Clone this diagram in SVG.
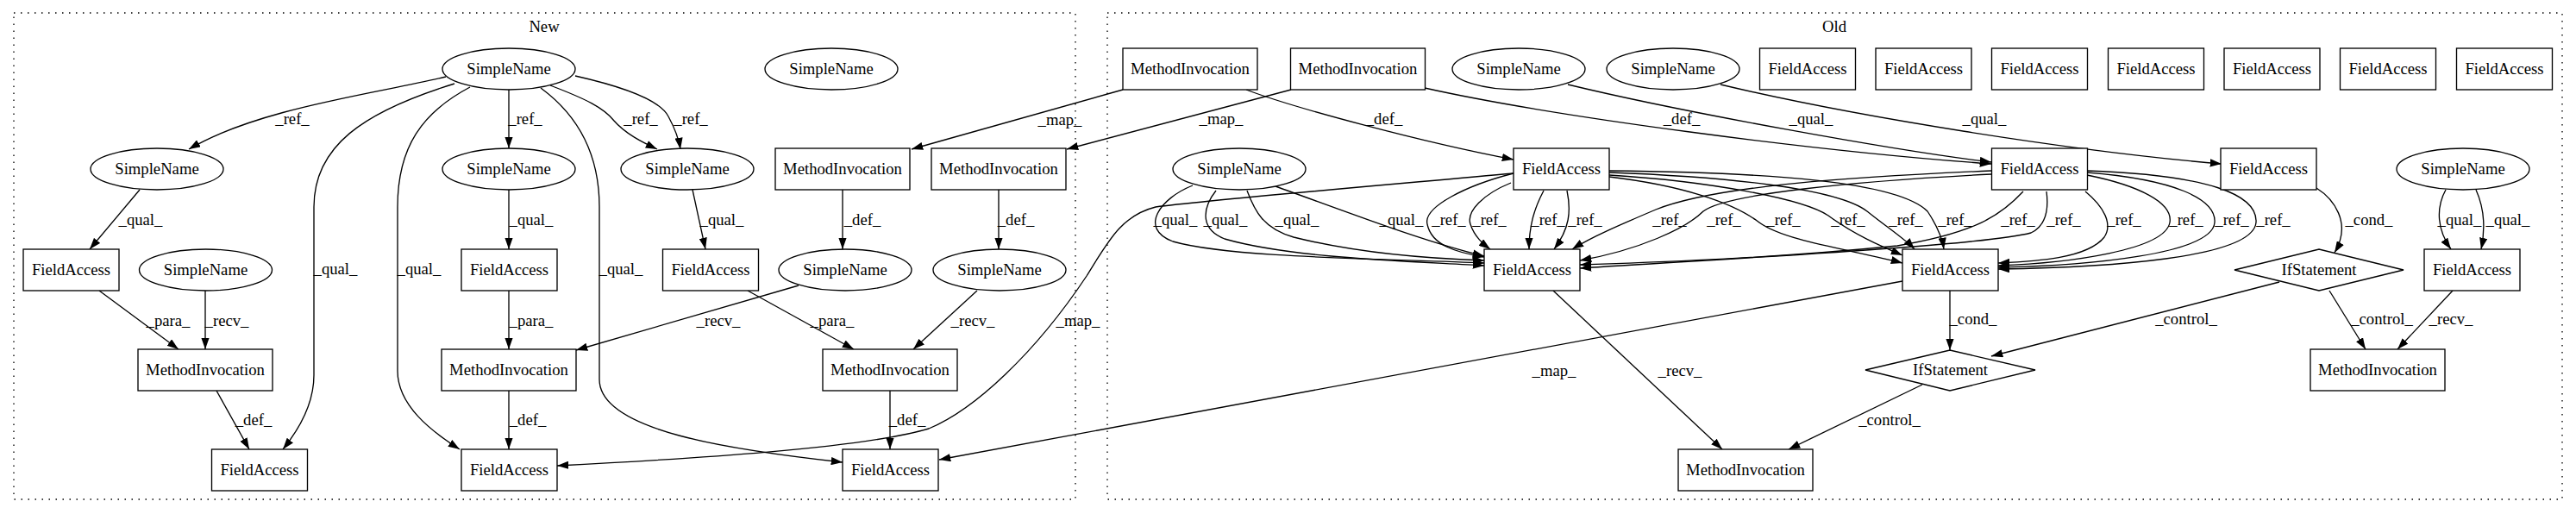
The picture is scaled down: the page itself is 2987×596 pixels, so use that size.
<svg xmlns="http://www.w3.org/2000/svg" width="2987" height="596" viewBox="0 0 2987 596">
<defs>
<marker id="ah" viewBox="0 0 10 7" refX="10" refY="3.5" markerWidth="13.3" markerHeight="9.3" markerUnits="userSpaceOnUse" orient="auto"><path d="M0,0 L10,3.5 L0,7 z" fill="#000"/></marker>
<style>
text{font-family:"Liberation Serif","Times New Roman",serif;font-size:18.67px;fill:#000;text-anchor:middle}
.n rect,.n ellipse,.n polygon{fill:#fff;stroke:#000;stroke-width:1.33}
.cl{fill:none;stroke:#000;stroke-width:1.33;stroke-dasharray:1.5,6.5}
#edges path{fill:none;stroke:#000;stroke-width:1.33;marker-end:url(#ah)}
</style>
</defs>
<rect width="2987" height="596" fill="#fff"/>
<g id="cluster_new"><rect class="cl" x="16" y="15" width="1231" height="564"/><text x="631" y="37">New</text></g>
<g id="cluster_old"><rect class="cl" x="1284" y="15" width="1687" height="564"/><text x="2127" y="37">Old</text></g>

<g id="edges">
<path d="M517,89 C440,108 300,125 219,173"/><text x="339" y="144">_ref_</text>
<path d="M527,97 C420,130 364,170 364,240 L364,435 C364,470 345,500 328,521"/><text x="389" y="318">_qual_</text>
<path d="M545,101 C490,130 461,170 461,240 L461,430 C461,470 500,500 533,521"/><text x="486" y="318">_qual_</text>
<path d="M590,104 L590,172"/><text x="609" y="144">_ref_</text>
<path d="M627,102 C672,135 695,180 695,240 L695,440 C695,500 850,522 977,536"/><text x="720" y="318">_qual_</text>
<path d="M638,99 C680,115 700,125 712,140 C725,155 745,165 762,173"/><text x="743" y="144">_ref_</text>
<path d="M667,88 C720,100 765,115 775,135 C782,148 787,160 789,173"/><text x="801" y="144">_ref_</text>
<path d="M162,220 L104,289"/><text x="163" y="261">_qual_</text>
<path d="M590,220 L590,289"/><text x="616" y="261">_qual_</text>
<path d="M803,220 L818,289"/><text x="837" y="261">_qual_</text>
<path d="M977,220 L977,289"/><text x="1000" y="261">_def_</text>
<path d="M1158,220 L1158,289"/><text x="1178" y="261">_def_</text>
<path d="M115,337 L207,405"/><text x="195" y="378">_para_</text>
<path d="M238,337 L238,405"/><text x="263" y="378">_recv_</text>
<path d="M590,337 L590,405"/><text x="616" y="378">_para_</text>
<path d="M926,331 L668,406"/><text x="833" y="378">_recv_</text>
<path d="M867,337 L990,405"/><text x="965" y="378">_para_</text>
<path d="M1133,337 L1059,405"/><text x="1128" y="378">_recv_</text>
<path d="M251,453 L289,521"/><text x="294" y="493">_def_</text>
<path d="M590,453 L590,521"/><text x="612" y="493">_def_</text>
<path d="M1032,453 L1032,521"/><text x="1052" y="493">_def_</text>

<path d="M1302,104 L1057,173"/><text x="1229" y="145">_map_</text>
<path d="M1497,104 L1237,173"/><text x="1416" y="144">_map_</text>
<path d="M1755,201 C1600,215 1400,232 1340,240 C1300,250 1285,280 1260,320 C1200,410 1130,475 1077,497 C1000,520 800,532 646,540"/><text x="1250" y="378">_map_</text>
<path d="M2206,326 L1089,533"/><text x="1802" y="436">_map_</text>

<path d="M1445,104 C1500,125 1650,165 1755,185"/><text x="1605" y="144">_def_</text>
<path d="M1652,102 C1800,135 2100,175 2309,190"/><text x="1950" y="144">_def_</text>
<path d="M1818,98 C1950,130 2200,175 2309,188"/><text x="2100" y="144">_qual_</text>
<path d="M1995,98 C2150,135 2400,175 2576,190"/><text x="2301" y="144">_qual_</text>
<path d="M2836,220 C2825,240 2825,265 2842,289"/><text x="2852" y="261">_qual_</text>
<path d="M2871,220 C2880,240 2882,265 2877,289"/><text x="2908" y="261">_qual_</text>
<path d="M2686,218 C2705,230 2728,258 2707,293"/><text x="2747" y="261">_cond_</text>
<path d="M2643,327 L2309,413"/><text x="2535" y="376">_control_</text>
<path d="M2701,337 L2743,405"/><text x="2762" y="376">_control_</text>
<path d="M2844,337 L2780,405"/><text x="2842" y="376">_recv_</text>
<path d="M2261,337 L2261,406"/><text x="2288" y="376">_cond_</text>
<path d="M2229,446 L2074,521"/><text x="2191" y="493">_control_</text>
<path d="M1801,337 L1997,521"/><text x="1948" y="436">_recv_</text>

<path d="M1383,215 C1345,230 1320,265 1360,280 C1430,300 1620,300 1721,305"/><text x="1363" y="261">_qual_</text>
<path d="M1410,221 C1395,240 1390,265 1420,277 C1500,300 1640,303 1721,308"/><text x="1421" y="261">_qual_</text>
<path d="M1446,221 C1455,245 1465,265 1500,275 C1580,295 1660,300 1721,302"/><text x="1504" y="261">_qual_</text>
<path d="M1479,216 C1560,245 1650,280 1721,297"/><text x="1625" y="261">_qual_</text>

<path d="M1755,201 C1700,215 1650,240 1655,260 C1660,285 1690,293 1721,298"/><text x="1680" y="261">_ref_</text>
<path d="M1752,212 C1720,225 1700,245 1705,260 C1710,275 1720,283 1728,289"/><text x="1727" y="261">_ref_</text>
<path d="M1790,221 C1780,240 1773,260 1773,289"/><text x="1795" y="261">_ref_</text>
<path d="M1817,221 C1822,245 1820,265 1802,289"/><text x="1838" y="261">_ref_</text>

<path d="M2309,198 C2150,205 1990,215 1920,243 C1880,260 1845,275 1823,289"/><text x="1936" y="261">_ref_</text>
<path d="M2309,202 C2150,210 2000,225 1975,245 C1955,265 1900,290 1832,302"/><text x="1999" y="261">_ref_</text>
<path d="M2346,222 C2320,250 2290,270 2200,285 C2050,300 1920,304 1832,307"/><text x="2340" y="261">_ref_</text>
<path d="M2373,222 C2376,245 2372,262 2355,270 C2300,285 2000,300 1832,311"/><text x="2393" y="261">_ref_</text>

<path d="M1866,205 C1950,215 2010,235 2040,258 C2070,280 2150,290 2206,305"/><text x="2068" y="261">_ref_</text>
<path d="M1866,203 C1980,210 2090,230 2120,250 C2150,272 2180,285 2206,296"/><text x="2143" y="261">_ref_</text>
<path d="M1866,200 C2000,205 2130,218 2165,245 C2190,265 2210,278 2220,289"/><text x="2210" y="261">_ref_</text>
<path d="M1866,198 C2050,200 2200,210 2235,245 C2245,260 2252,275 2254,289"/><text x="2267" y="261">_ref_</text>

<path d="M2418,222 C2440,240 2450,260 2440,275 C2420,300 2360,303 2317,305"/><text x="2463" y="261">_ref_</text>
<path d="M2420,203 C2480,215 2520,235 2516,258 C2510,290 2400,305 2317,308"/><text x="2535" y="261">_ref_</text>
<path d="M2420,200 C2520,208 2570,230 2568,258 C2565,295 2420,308 2317,310"/><text x="2588" y="261">_ref_</text>
<path d="M2420,198 C2560,203 2618,225 2616,258 C2612,300 2440,310 2317,312"/><text x="2636" y="261">_ref_</text>
</g>

<g id="n1" class="n"><ellipse cx="590" cy="80" rx="77" ry="24"/><text x="590" y="86">SimpleName</text></g>
<g id="n2" class="n"><ellipse cx="964" cy="80" rx="77" ry="24"/><text x="964" y="86">SimpleName</text></g>
<g id="n3" class="n"><ellipse cx="182" cy="196" rx="77" ry="24"/><text x="182" y="202">SimpleName</text></g>
<g id="n4" class="n"><ellipse cx="590" cy="196" rx="77" ry="24"/><text x="590" y="202">SimpleName</text></g>
<g id="n5" class="n"><ellipse cx="797" cy="196" rx="77" ry="24"/><text x="797" y="202">SimpleName</text></g>
<g id="n6" class="n"><rect x="899" y="172" width="156" height="48"/><text x="977" y="202">MethodInvocation</text></g>
<g id="n7" class="n"><rect x="1080" y="172" width="156" height="48"/><text x="1158" y="202">MethodInvocation</text></g>
<g id="n8" class="n"><rect x="27" y="289" width="111" height="48"/><text x="82.5" y="319">FieldAccess</text></g>
<g id="n9" class="n"><ellipse cx="238.5" cy="313" rx="77" ry="24"/><text x="238.5" y="319">SimpleName</text></g>
<g id="n10" class="n"><rect x="535" y="289" width="111" height="48"/><text x="590.5" y="319">FieldAccess</text></g>
<g id="n11" class="n"><rect x="768.5" y="289" width="111" height="48"/><text x="824" y="319">FieldAccess</text></g>
<g id="n12" class="n"><ellipse cx="980" cy="313" rx="77" ry="24"/><text x="980" y="319">SimpleName</text></g>
<g id="n13" class="n"><ellipse cx="1159" cy="313" rx="77" ry="24"/><text x="1159" y="319">SimpleName</text></g>
<g id="n14" class="n"><rect x="160" y="405" width="156" height="48"/><text x="238" y="435">MethodInvocation</text></g>
<g id="n15" class="n"><rect x="512" y="405" width="156" height="48"/><text x="590" y="435">MethodInvocation</text></g>
<g id="n16" class="n"><rect x="954" y="405" width="156" height="48"/><text x="1032" y="435">MethodInvocation</text></g>
<g id="n17" class="n"><rect x="245.5" y="521" width="111" height="48"/><text x="301" y="551">FieldAccess</text></g>
<g id="n18" class="n"><rect x="535" y="521" width="111" height="48"/><text x="590.5" y="551">FieldAccess</text></g>
<g id="n19" class="n"><rect x="977" y="521" width="111" height="48"/><text x="1032.5" y="551">FieldAccess</text></g>

<g id="o1" class="n"><rect x="1302" y="56" width="156" height="48"/><text x="1380" y="86">MethodInvocation</text></g>
<g id="o2" class="n"><rect x="1496.5" y="56" width="156" height="48"/><text x="1574.5" y="86">MethodInvocation</text></g>
<g id="o3" class="n"><ellipse cx="1761" cy="80" rx="77" ry="24"/><text x="1761" y="86">SimpleName</text></g>
<g id="o4" class="n"><ellipse cx="1940" cy="80" rx="77" ry="24"/><text x="1940" y="86">SimpleName</text></g>
<g id="o5" class="n"><rect x="2040.5" y="56" width="111" height="48"/><text x="2096" y="86">FieldAccess</text></g>
<g id="o6" class="n"><rect x="2175" y="56" width="111" height="48"/><text x="2230.5" y="86">FieldAccess</text></g>
<g id="o7" class="n"><rect x="2309.5" y="56" width="111" height="48"/><text x="2365" y="86">FieldAccess</text></g>
<g id="o8" class="n"><rect x="2444.5" y="56" width="111" height="48"/><text x="2500" y="86">FieldAccess</text></g>
<g id="o9" class="n"><rect x="2579" y="56" width="111" height="48"/><text x="2634.5" y="86">FieldAccess</text></g>
<g id="o10" class="n"><rect x="2713.5" y="56" width="111" height="48"/><text x="2769" y="86">FieldAccess</text></g>
<g id="o11" class="n"><rect x="2848.5" y="56" width="111" height="48"/><text x="2904" y="86">FieldAccess</text></g>
<g id="o12" class="n"><ellipse cx="1437" cy="196" rx="77" ry="24"/><text x="1437" y="202">SimpleName</text></g>
<g id="o13" class="n"><rect x="1755" y="172" width="111" height="48"/><text x="1810.5" y="202">FieldAccess</text></g>
<g id="o14" class="n"><rect x="2309.5" y="172" width="111" height="48"/><text x="2365" y="202">FieldAccess</text></g>
<g id="o15" class="n"><rect x="2575" y="172" width="111" height="48"/><text x="2630.5" y="202">FieldAccess</text></g>
<g id="o16" class="n"><ellipse cx="2856" cy="196" rx="77" ry="24"/><text x="2856" y="202">SimpleName</text></g>
<g id="o17" class="n"><rect x="1721" y="289" width="111" height="48"/><text x="1776.5" y="319">FieldAccess</text></g>
<g id="o18" class="n"><rect x="2206" y="289" width="111" height="48"/><text x="2261.5" y="319">FieldAccess</text></g>
<g id="o19" class="n"><polygon points="2591,313 2689,289 2787,313 2689,337"/><text x="2689" y="319">IfStatement</text></g>
<g id="o20" class="n"><rect x="2811" y="289" width="111" height="48"/><text x="2866.5" y="319">FieldAccess</text></g>
<g id="o21" class="n"><polygon points="2163,429 2261,406 2360,429 2261,453"/><text x="2261.5" y="435">IfStatement</text></g>
<g id="o22" class="n"><rect x="2679" y="405" width="156" height="48"/><text x="2757" y="435">MethodInvocation</text></g>
<g id="o23" class="n"><rect x="1946" y="521" width="156" height="48"/><text x="2024" y="551">MethodInvocation</text></g>
</svg>
